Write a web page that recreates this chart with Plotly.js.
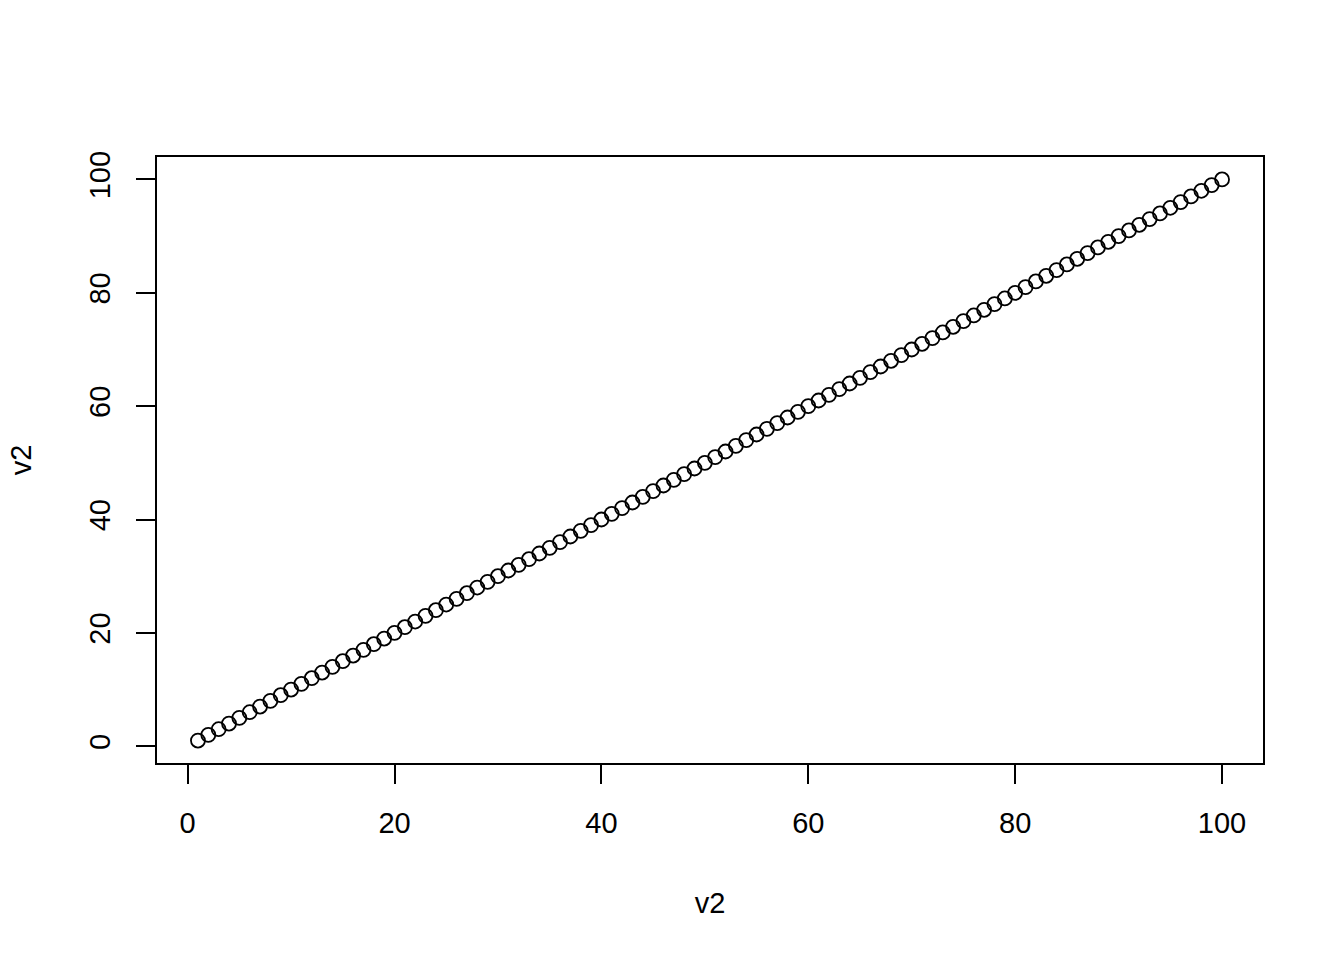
<!DOCTYPE html>
<html>
<head>
<meta charset="utf-8">
<script src="https://cdn.plot.ly/plotly-3.0.1.min.js"></script>
<style>html,body{margin:0;padding:0;background:#fff;}#chart{width:1344px;height:960px;}</style>
</head>
<body>
<div id="chart"></div>
<script>
var v2 = [1,2,3,4,5,6,7,8,9,10,11,12,13,14,15,16,17,18,19,20,21,22,23,24,25,26,27,28,29,30,31,32,33,34,35,36,37,38,39,40,41,42,43,44,45,46,47,48,49,50,51,52,53,54,55,56,57,58,59,60,61,62,63,64,65,66,67,68,69,70,71,72,73,74,75,76,77,78,79,80,81,82,83,84,85,86,87,88,89,90,91,92,93,94,95,96,97,98,99,100];
var tickVals = [0,20,40,60,80,100];
var tickText = ["0","20","40","60","80","100"];
var xLabel = "v2";
var yLabel = "v2";

function mkFont() {
  return {family: "Liberation Sans, Arial, Helvetica, sans-serif", size: 29, color: "#000"};
}

var trace = {
  x: v2, y: v2, type: "scatter", mode: "markers",
  marker: {symbol: "circle-open", size: 14, color: "#000", line: {width: 1.8, color: "#000"}},
  hoverinfo: "x+y"
};

function axisBase() {
  return {
    showgrid: false, zeroline: false, showline: true, mirror: true,
    linecolor: "#000", linewidth: 1.6,
    ticks: "outside", ticklen: 19, tickwidth: 1.6, tickcolor: "#000",
    tickmode: "array", tickvals: tickVals, ticktext: tickText,
    tickfont: mkFont(), automargin: false
  };
}

var xa = axisBase();
xa.range = [-2.96, 103.96];
xa.ticklabelstandoff = 14;
xa.title = {text: xLabel, font: mkFont(), standoff: 55};

var ya = axisBase();
ya.range = [-2.96, 103.96];
ya.tickangle = -90;
ya.ticklabelstandoff = 15;
ya.title = {text: yLabel, font: mkFont(), standoff: 43};

var layout = {
  width: 1344, height: 960,
  paper_bgcolor: "#fff", plot_bgcolor: "#fff",
  margin: {l: 157, r: 81, t: 157, b: 197},
  showlegend: false,
  font: mkFont(),
  xaxis: xa,
  yaxis: ya
};

Plotly.newPlot("chart", [trace], layout, {displayModeBar: false});
</script>
</body>
</html>
